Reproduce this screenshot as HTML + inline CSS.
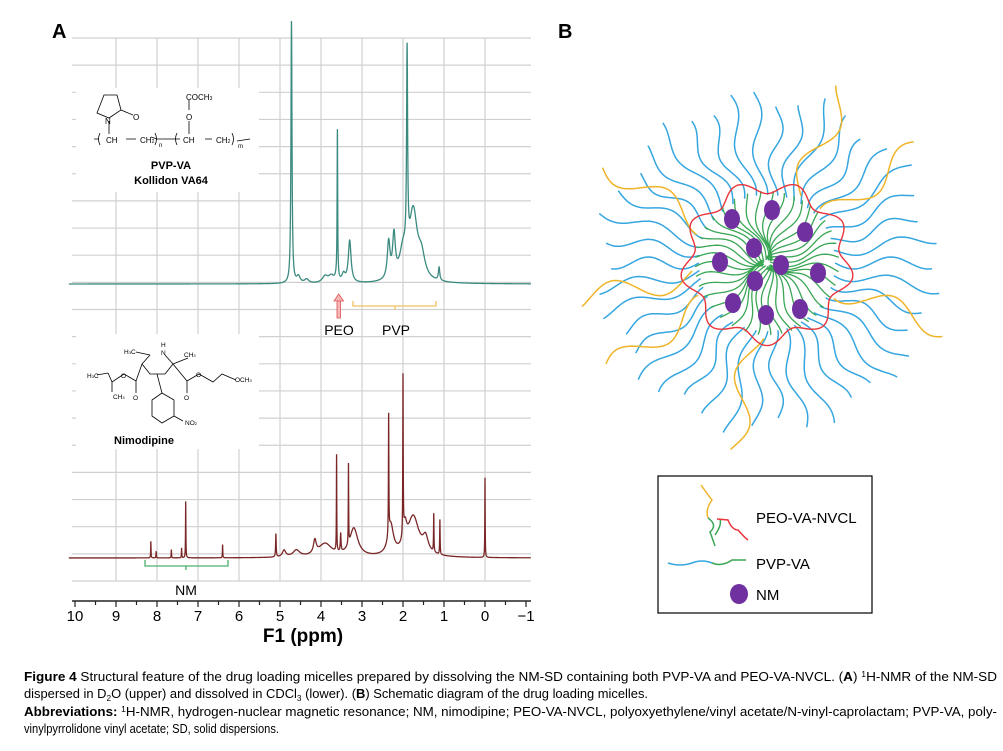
<!DOCTYPE html>
<html><head><meta charset="utf-8">
<style>
html,body{margin:0;padding:0;background:#fff;}
body{width:1003px;height:746px;overflow:hidden;font-family:"Liberation Sans",sans-serif;}
svg text{font-family:"Liberation Sans",sans-serif;}
</style></head>
<body>
<svg id="fig" width="1003" height="746" viewBox="0 0 1003 746" xmlns="http://www.w3.org/2000/svg">
  <text x="52" y="38" font-size="20" font-weight="bold">A</text>
  <text x="558" y="38" font-size="20" font-weight="bold">B</text>
  <g id="grid"></g>
  <g id="spectra"></g>
  <g id="axis"></g>
  <text x="303" y="642" font-size="19" font-weight="bold" text-anchor="middle">F1 (ppm)</text>

  <g stroke="#000" stroke-width="0.8" fill="none">
    <rect x="76" y="88" width="183" height="104" fill="#fff" stroke="none"/>
    <path d="M97,113 L104,95 L117,95 L121,110 L109,118 Z"/>
    <path d="M121,110 L133,115"/>
    <path d="M109,121 L109,134"/>
    <path d="M94,139 L99,139 M126,139 L136,139 M151,137 L157,139 L180,139 M205,139 L212,139 M237,141 L250,139"/>
    <path d="M100,133 Q97,139 100,145 M155,133 Q158,139 155,145 M177,133 Q174,139 177,145 M232,133 Q235,139 232,145"/>
    <path d="M189,100 L189,110 M189,121 L189,134"/>
  </g>
  <g font-size="8">
    <text x="105" y="124">N</text><text x="133" y="120">O</text>
    <text x="186" y="100">COCH<tspan font-size="5">3</tspan></text>
    <text x="186" y="120">O</text>
    <text x="106" y="143">CH</text><text x="140" y="143">CH<tspan font-size="5">2</tspan></text>
    <text x="159" y="147" font-size="6">n</text>
    <text x="183" y="143">CH</text><text x="216" y="143">CH<tspan font-size="5">2</tspan></text>
    <text x="238" y="148" font-size="6">m</text>
  </g>
  <text x="171" y="169" font-size="11" font-weight="bold" text-anchor="middle">PVP-VA</text>
  <text x="171" y="184" font-size="11" font-weight="bold" text-anchor="middle">Kollidon VA64</text>

  <g stroke="#000" stroke-width="0.8" fill="none">
    <rect x="76" y="334" width="183" height="115" fill="#fff" stroke="none"/>
    <path d="M150,355 L142,364 L150,374 L165,374 L173,364 L165,355"/>
    <path d="M136,352 L150,355 M173,364 L188,358"/>
    <path d="M142,364 L136,381 M136,381 L136,393 M136,381 L124,374 M124,374 L112,382 M112,382 L108,373 M108,373 L97,375 M112,382 L112,392"/>
    <path d="M187,381 L187,393 M187,381 L199,374 M199,374 L213,382 L222,374 L236,380"/>
    <path d="M173,364 L187,381 M157,374 L162,393 M162,393 L152,400 L152,416 L162,423 L174,416 L174,400 Z"/>
    <path d="M174,416 L183,421"/>
  </g>
  <g font-size="6.5">
    <text x="161" y="355">N</text><text x="161" y="347">H</text>
    <text x="124" y="354">H<tspan font-size="4">3</tspan>C</text>
    <text x="184" y="357">CH<tspan font-size="4">3</tspan></text>
    <text x="87" y="378">H<tspan font-size="4">3</tspan>C</text>
    <text x="113" y="399">CH<tspan font-size="4">3</tspan></text>
    <text x="133" y="400">O</text><text x="184" y="400">O</text>
    <text x="121" y="378">O</text><text x="196" y="377">O</text>
    <text x="235" y="382">OCH<tspan font-size="4">3</tspan></text>
    <text x="185" y="425">NO<tspan font-size="4">2</tspan></text>
  </g>
  <text x="144" y="444" font-size="11" font-weight="bold" text-anchor="middle">Nimodipine</text>

  <g>
    <rect x="337" y="300" width="3.5" height="18" fill="#f4b8b8" stroke="#e05050" stroke-width="0.8"/>
    <path d="M334,301 L338.7,294 L343.5,301 Z" fill="#f4b8b8" stroke="#e05050" stroke-width="0.8"/>
  </g>
  <path d="M353,301 L353,306 L395,306 L395,310 M395,306 L436,306 L436,301" stroke="#f0c060" stroke-width="1.3" fill="none"/>
  <text x="339" y="335" font-size="14" text-anchor="middle">PEO</text>
  <text x="396" y="335" font-size="14" text-anchor="middle">PVP</text>
  <path d="M145,560 L145,566 L186,566 L186,570 M186,566 L228,566 L228,560" stroke="#4caf6a" stroke-width="1.3" fill="none"/>
  <text x="186" y="595" font-size="14" text-anchor="middle">NM</text>

  <g id="micelle"></g>

  <g>
    <rect x="658" y="476" width="214" height="137" fill="#fff" stroke="#000" stroke-width="1.2"/>
    <path d="M701,485 Q708,495 712,500 Q705,510 708,518" stroke="#f0b429" stroke-width="1.5" fill="none"/>
    <path d="M708,518 Q718,525 710,532 Q713,540 715,546 M715,535 Q722,525 720,519" stroke="#3aa655" stroke-width="1.5" fill="none"/>
    <path d="M717,519 L728,520 Q732,530 738,530 Q745,538 748,540" stroke="#e8343a" stroke-width="1.5" fill="none"/>
    <text x="756" y="523" font-size="15">PEO-VA-NVCL</text>
    <path d="M668,563 Q680,567 692,563 Q702,559 712,563" stroke="#35a6e0" stroke-width="1.5" fill="none"/>
    <path d="M712,563 Q722,567 732,560 L746,560" stroke="#3aa655" stroke-width="1.5" fill="none"/>
    <text x="756" y="569" font-size="15">PVP-VA</text>
    <ellipse cx="739" cy="594" rx="9" ry="10" fill="#7030a0"/>
    <text x="756" y="600" font-size="15">NM</text>
  </g>

  <g font-size="12.5">
    <text x="24" y="681" textLength="973" lengthAdjust="spacingAndGlyphs"><tspan font-weight="bold">Figure 4</tspan> Structural feature of the drug loading micelles prepared by dissolving the NM-SD containing both PVP-VA and PEO-VA-NVCL. (<tspan font-weight="bold">A</tspan>) <tspan font-size="8" dy="-4">1</tspan><tspan dy="4">H-NMR of the NM-SD</tspan></text>
    <text x="24" y="698" textLength="624" lengthAdjust="spacingAndGlyphs">dispersed in D<tspan font-size="8" dy="3">2</tspan><tspan dy="-3">O (upper) and dissolved in CDCl</tspan><tspan font-size="8" dy="3">3</tspan><tspan dy="-3"> (lower). (</tspan><tspan font-weight="bold">B</tspan>) Schematic diagram of the drug loading micelles.</text>
    <text x="24" y="716" textLength="973" lengthAdjust="spacingAndGlyphs"><tspan font-weight="bold">Abbreviations:</tspan> <tspan font-size="8" dy="-4">1</tspan><tspan dy="4">H-NMR, hydrogen-nuclear magnetic resonance; NM, nimodipine; PEO-VA-NVCL, polyoxyethylene/vinyl acetate/N-vinyl-caprolactam; PVP-VA, poly-</tspan></text>
    <text x="24" y="733" textLength="255" lengthAdjust="spacingAndGlyphs">vinylpyrrolidone vinyl acetate; SD, solid dispersions.</text>
  </g>
</svg>
<script>
const tickLabels = ["10","9","8","7","6","5","4","3","2","1","0","\u22121"];
const tickValues = [10,9,8,7,6,5,4,3,2,1,0,-1];
const upperPpm    = [4.72,4.55,4.35,3.9,3.75,3.62,3.6,3.45,3.3,2.35,2.22,2.0,1.9,1.75,1.55,1.12];
const upperHeight = [100,2.5,1.5,2.5,2.5,2,56,3,16,14,16,10,76,26,8,5];
const upperWidth  = [0.015,0.05,0.06,0.08,0.08,0.04,0.008,0.05,0.04,0.04,0.04,0.1,0.015,0.12,0.1,0.02];
const lowerPpm    = [8.15,8.02,7.65,7.4,7.3,6.4,5.1,4.9,4.6,4.15,3.9,3.62,3.52,3.33,3.2,2.35,2.3,2.0,1.95,1.75,1.45,1.25,1.1,0];
const lowerHeight = [10,4,5,6,34,8,14,4,4,8,8,58,11,48,17,72,18,96,12,24,9,23,21,48];
const lowerWidth  = [0.005,0.005,0.005,0.005,0.005,0.005,0.008,0.05,0.1,0.04,0.2,0.005,0.01,0.005,0.12,0.006,0.08,0.006,0.05,0.17,0.08,0.006,0.006,0.005];

const NS="http://www.w3.org/2000/svg";
const xS = p => 157 + (8 - p) * 41;
const upperBase = 284, upperK = 2.62;
const lowerBase = 558, lowerK = 1.66;
const yUp = v => upperBase - v * upperK;
const yLo = v => lowerBase - v * lowerK;
function mk(tag, attrs, parent){const e=document.createElementNS(NS,tag);for(const k in attrs)e.setAttribute(k,attrs[k]);parent.appendChild(e);return e;}

const grid=document.getElementById('grid');
for(let i=0;i<=20;i++){
  const y=38+i*27.15;
  const l=mk('line',{x1:72,x2:531,y1:y,y2:y,stroke:'#d0d0d0','stroke-width':1.2},grid);
  
  
}
tickValues.forEach(v=>{
  const x=xS(v);
  if(v<10&&v>-1){
    const l=mk('line',{x1:x,x2:x,y1:38,y2:581,stroke:'#d0d0d0','stroke-width':1.2},grid);
    
    
  }
});

function spec(pp,hh,ww,ys,color,name){
  let d='';
  for(let p=10.15;p>=-1.12;p-=0.002){
    let v=0;
    for(let i=0;i<pp.length;i++){const dx=p-pp[i];v+=hh[i]*ww[i]*ww[i]/(dx*dx+ww[i]*ww[i]);}
    d+=(d?'L':'M')+xS(p).toFixed(2)+','+ys(v).toFixed(2);
  }
  const path=mk('path',{d:d,fill:'none',stroke:color,'stroke-width':1.3},document.getElementById('spectra'));
  
  
}
spec(upperPpm,upperHeight,upperWidth,yUp,'#3b8a80','upper-spectrum-d2o');
spec(lowerPpm,lowerHeight,lowerWidth,yLo,'#7a2626','lower-spectrum-cdcl3');

const ax=document.getElementById('axis');
const al=mk('line',{x1:72,x2:531,y1:601,y2:601,stroke:'#222','stroke-width':1.5},ax);


for(let p=10;p>=-1.001;p-=0.5){
  const major=Math.abs(p-Math.round(p))<1e-6;
  const t=mk('line',{x1:xS(p),x2:xS(p),y1:601,y2:major?607:605,stroke:'#222','stroke-width':1.2},ax);
  
  
}
tickValues.forEach((v,i)=>{
  const t=mk('text',{x:xS(v),y:621,'font-size':15,'text-anchor':'middle'},ax);
  t.textContent=tickLabels[i];
  
  
});

const mg=document.getElementById('micelle');
const cx=767, cy=263;
function wavyRadial(a,r0,r1,amp,waves,color,w,name){
  let d='';const n=40;
  for(let i=0;i<=n;i++){
    const t=i/n, r=r0+(r1-r0)*t, off=amp*Math.sin(t*waves*Math.PI*2+a*3);
    const x=cx+r*Math.cos(a)-off*Math.sin(a), y=cy+r*Math.sin(a)+off*Math.cos(a);
    d+=(i?'L':'M')+x.toFixed(1)+','+y.toFixed(1);
  }
  const p=mk('path',{d:d,fill:'none',stroke:color,'stroke-width':w},mg);
  
  
}
for(let i=0;i<42;i++){
  const a=i/42*Math.PI*2;
  wavyRadial(a,68,165+10*Math.sin(i*1.7),6,1.3,'#35a6e0',1.5,'pvp-va-chain');
}
for(let i=0;i<38;i++){
  const a=i/38*Math.PI*2+0.1;
  wavyRadial(a,3,72,5,1,'#3aa655',1.3,'inner-chain');
}
const yel=[0.35,-1.15,-0.65,2.55,2.95,1.75,-2.6];
yel.forEach(a=>wavyRadial(a,75,190,12,1.2,'#f0b429',1.5,'peo-va-nvcl-chain'));
let rd='';
for(let i=0;i<=200;i++){
  const a=i/200*Math.PI*2, r=80+7*Math.sin(a*9);
  rd+=(i?'L':'M')+(cx+r*Math.cos(a)).toFixed(1)+','+(cy+r*0.95*Math.sin(a)).toFixed(1);
}
const ring=mk('path',{d:rd,fill:'none',stroke:'#e8343a','stroke-width':1.4},mg);


const dots=[[732,219],[772,210],[805,232],[754,248],[720,262],[781,265],[818,273],[755,281],[733,303],[766,315],[800,309]];
dots.forEach(p=>{
  const e=mk('ellipse',{cx:p[0],cy:p[1],rx:8,ry:10,fill:'#7030a0'},mg);
  
  
});
</script>
</body></html>
